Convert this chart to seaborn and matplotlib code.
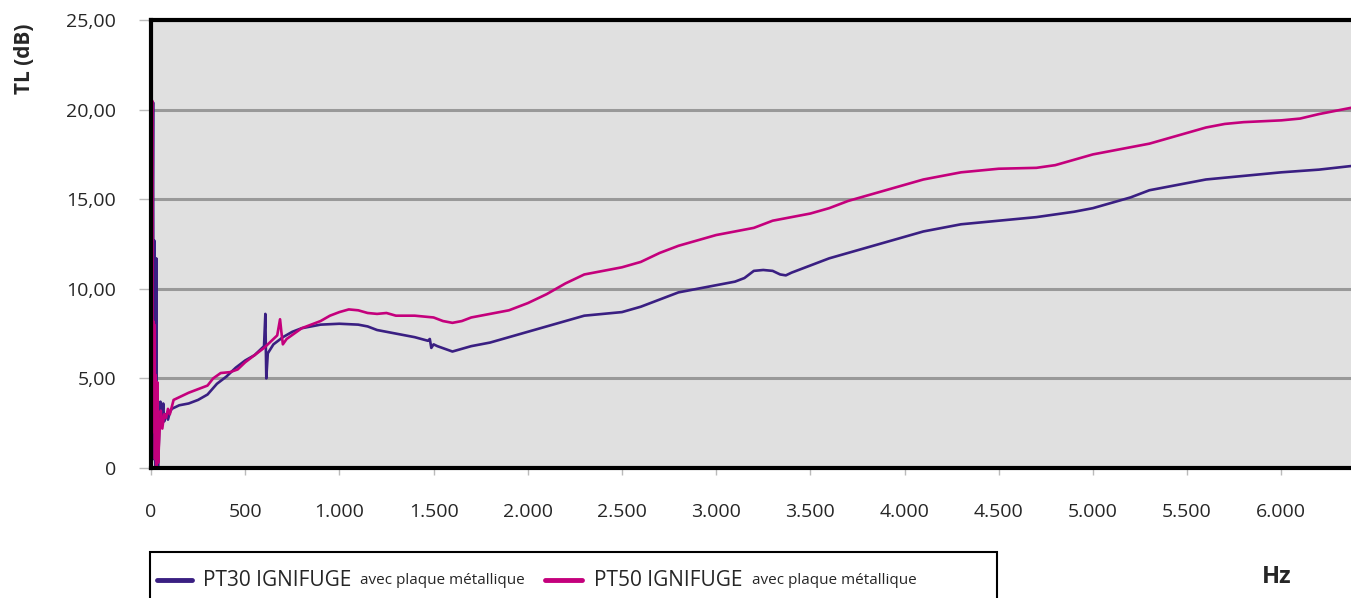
import matplotlib
matplotlib.use('Agg')
import matplotlib.pyplot as plt
from matplotlib.patches import Rectangle
from matplotlib.lines import Line2D
from matplotlib.ticker import FuncFormatter
import seaborn as sns
import pandas as pd

# PT30 IGNIFUGE avec plaque métallique
freq_pt30 = [2, 11, 14, 17, 20, 24, 28, 31, 34, 37, 45, 50, 55, 65, 70, 80, 90, 100,
             110, 130, 150, 200, 250, 300, 350, 400, 450, 500, 550, 600, 607, 612,
             620, 650, 700, 750, 800, 900, 1000, 1100, 1150, 1200, 1300, 1400, 1470,
             1480, 1488, 1500, 1520, 1600, 1700, 1800, 1900, 2000, 2100, 2200, 2300,
             2400, 2500, 2600, 2700, 2800, 2900, 3000, 3100, 3150, 3200, 3250, 3300,
             3340, 3370, 3400, 3500, 3600, 3700, 3800, 3900, 4000, 4100, 4200, 4300,
             4500, 4700, 4900, 5000, 5100, 5200, 5300, 5400, 5500, 5600, 5800, 6000,
             6200, 6370]
tl_pt30 = [0.0, 20.4, 0.5, 12.7, 1.0, 0.0, 11.7, 0.2, 2.5, 0.0, 2.5, 3.7, 2.3, 3.6, 2.6,
           3.0, 2.7, 3.1, 3.3, 3.4, 3.5, 3.6, 3.8, 4.1, 4.7, 5.1, 5.6, 6.0, 6.3, 6.8,
           8.6, 5.0, 6.4, 6.9, 7.3, 7.6, 7.8, 8.0, 8.05, 8.0, 7.9, 7.7, 7.5, 7.3, 7.1,
           7.2, 6.7, 6.9, 6.8, 6.5, 6.8, 7.0, 7.3, 7.6, 7.9, 8.2, 8.5, 8.6, 8.7, 9.0,
           9.4, 9.8, 10.0, 10.2, 10.4, 10.6, 11.0, 11.05, 11.0, 10.8, 10.75, 10.9,
           11.3, 11.7, 12.0, 12.3, 12.6, 12.9, 13.2, 13.4, 13.6, 13.8, 14.0, 14.3,
           14.5, 14.8, 15.1, 15.5, 15.7, 15.9, 16.1, 16.3, 16.5, 16.65, 16.85]

# PT50 IGNIFUGE avec plaque métallique
freq_pt50 = [2, 6, 9, 12, 15, 18, 21, 24, 28, 33, 38, 45, 52, 60, 70, 80, 90, 100, 110,
             120, 140, 200, 250, 300, 330, 370, 420, 460, 500, 550, 600, 640, 670, 685,
             692, 700, 720, 800, 900, 950, 1000, 1050, 1100, 1150, 1200, 1250, 1300,
             1400, 1500, 1550, 1600, 1650, 1700, 1800, 1900, 2000, 2100, 2200, 2300,
             2400, 2500, 2600, 2700, 2800, 2900, 3000, 3100, 3200, 3300, 3400, 3500,
             3600, 3700, 3800, 3900, 4000, 4100, 4200, 4300, 4400, 4500, 4700, 4800,
             4900, 5000, 5100, 5200, 5300, 5400, 5500, 5600, 5700, 5800, 6000, 6100,
             6200, 6370]
tl_pt50 = [0.0, 20.5, 2.0, 8.2, 3.0, 8.0, 0.5, 5.2, 0.0, 4.8, 0.3, 2.0, 3.2, 2.2, 3.0,
           2.8, 3.3, 3.0, 3.4, 3.8, 3.9, 4.2, 4.4, 4.6, 5.0, 5.3, 5.35, 5.5, 5.9, 6.3,
           6.7, 7.1, 7.4, 8.3, 7.6, 6.9, 7.2, 7.8, 8.2, 8.5, 8.7, 8.85, 8.8, 8.65, 8.6,
           8.65, 8.5, 8.5, 8.4, 8.2, 8.1, 8.2, 8.4, 8.6, 8.8, 9.2, 9.7, 10.3, 10.8,
           11.0, 11.2, 11.5, 12.0, 12.4, 12.7, 13.0, 13.2, 13.4, 13.8, 14.0, 14.2,
           14.5, 14.9, 15.2, 15.5, 15.8, 16.1, 16.3, 16.5, 16.6, 16.7, 16.75, 16.9,
           17.2, 17.5, 17.7, 17.9, 18.1, 18.4, 18.7, 19.0, 19.2, 19.3, 19.4, 19.5,
           19.75, 20.1]

x_ticks = [0, 500, 1000, 1500, 2000, 2500, 3000, 3500, 4000, 4500, 5000, 5500, 6000]
y_ticks = [0, 5, 10, 15, 20, 25]

c30 = '#3a1f82'
c50 = '#c4007c'

df = pd.concat([
    pd.DataFrame({'Hz': freq_pt30, 'TL': tl_pt30, 'serie': 'PT30'}),
    pd.DataFrame({'Hz': freq_pt50, 'TL': tl_pt50, 'serie': 'PT50'}),
])

sns.set_style('white')
plt.rcParams['font.family'] = ['Open Sans', 'DejaVu Sans']

W, H = 1351, 598
fig = plt.figure(figsize=(W / 100, H / 100), dpi=100)
ax = fig.add_axes([151 / W, 1 - 468 / H, 1 - 151 / W, (468 - 20) / H])
ax.set_facecolor('#e0e0e0')

sns.lineplot(data=df, x='Hz', y='TL', hue='serie', palette={'PT30': c30, 'PT50': c50},
             estimator=None, sort=False, linewidth=1.9, legend=False, ax=ax)

ax.set_xlim(0, 6370)
ax.set_ylim(0, 25)
ax.set_xticks(x_ticks)
ax.set_yticks(y_ticks)
ax.xaxis.set_major_formatter(FuncFormatter(lambda v, p: f'{int(v):,}'.replace(',', '.')))
ax.yaxis.set_major_formatter(FuncFormatter(lambda v, p: '0' if v == 0 else f'{v:.2f}'.replace('.', ',')))
ax.set_xlabel('')
ax.set_ylabel('')

ax.yaxis.grid(True, color='#999999', linewidth=2.2)
ax.xaxis.grid(False)
ax.set_axisbelow(True)

for s in ['left', 'top', 'bottom']:
    ax.spines[s].set_visible(True)
    ax.spines[s].set_color('black')
    ax.spines[s].set_linewidth(3)
ax.spines['right'].set_visible(False)

ax.tick_params(axis='y', direction='out', length=9, width=1, color='#bbbbbb',
               pad=16, labelsize=14, left=True)
ax.tick_params(axis='x', direction='out', length=5, width=1, color='#bbbbbb',
               pad=20, labelsize=14, bottom=True)

fig.text(25 / W, 1 - 59 / H, 'TL (dB)', rotation=90, ha='center', va='center',
         fontsize=15, fontweight='bold')
fig.text(1277 / W, 1 - 577 / H, 'Hz', ha='center', va='center',
         fontsize=17, fontweight='bold')

# légende dessinée à la main (deux tailles de texte)
fig.add_artist(Rectangle((150 / W, -0.05), (997 - 150) / W, 0.05 + (598 - 552) / H,
                         transform=fig.transFigure, fill=False, edgecolor='black',
                         linewidth=1.5))
ly = 1 - 580 / H
for x0, x1, col, name, xs, xa in [(157, 192, c30, 'PT30 IGNIFUGE', 203, 360),
                                  (545, 582, c50, 'PT50 IGNIFUGE', 594, 752)]:
    fig.add_artist(Line2D([x0 / W, x1 / W], [ly, ly], transform=fig.transFigure,
                          color=col, linewidth=3.5))
    fig.text(xs / W, ly, name, ha='left', va='center', fontsize=15)
    fig.text(xa / W, ly, 'avec plaque métallique', ha='left', va='center', fontsize=11)

fig.savefig('out.png', dpi=100)
